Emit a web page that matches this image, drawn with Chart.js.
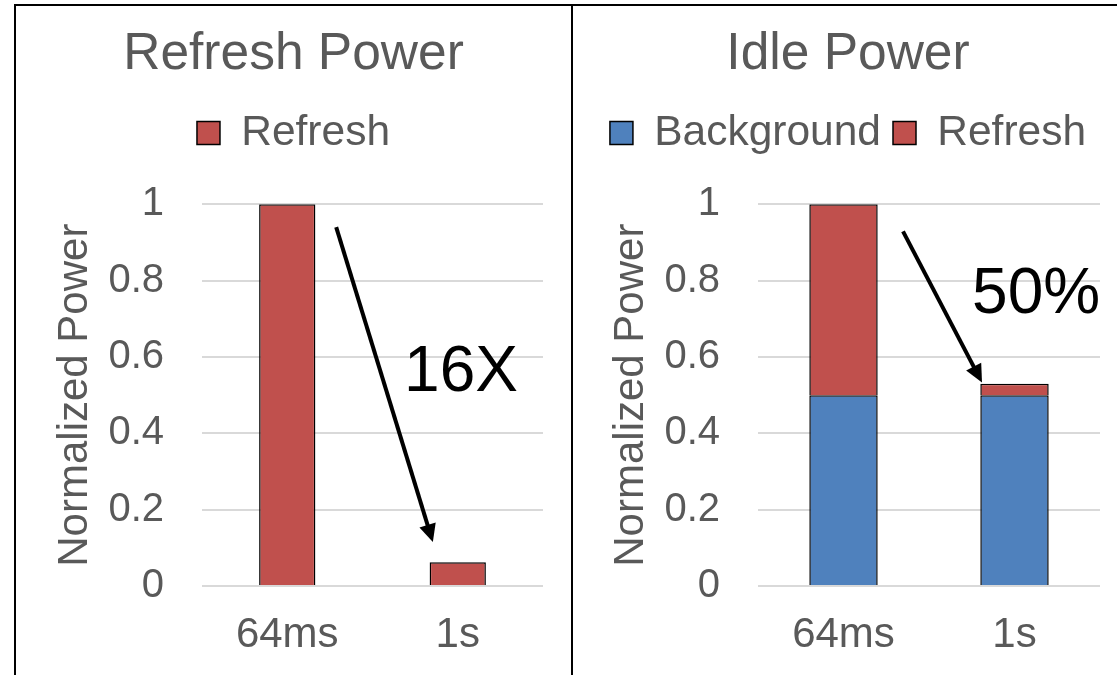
<!DOCTYPE html>
<html>
<head>
<meta charset="utf-8">
<script src="https://cdn.jsdelivr.net/npm/chart.js@4/dist/chart.umd.min.js"></script>
<style>
  html, body { margin: 0; padding: 0; background: #fff; }
  body { width: 1117px; height: 675px; position: relative; overflow: hidden; }
  .panel { position: absolute; top: 0; height: 675px; }
  #p1 { left: 17px; width: 554px; }
  #p2 { left: 574px; width: 543px; }
  .rule { position: absolute; background: #000; }
</style>
</head>
<body>
<div class="rule" style="left:14px;top:4px;width:1103px;height:2px"></div>
<div class="rule" style="left:14px;top:4px;width:2px;height:671px"></div>
<div class="rule" style="left:571px;top:4px;width:2px;height:671px"></div>
<div class="panel" id="p1"><canvas id="c1"></canvas></div>
<div class="panel" id="p2"><canvas id="c2"></canvas></div>
<script>
// Refresh interval settings
const categories = ['64ms', '1s'];
// Left panel: refresh power only
const refreshPower = [1, 0.0625];
// Right panel: idle power split into background and refresh
const idleBackground = [0.5, 0.5];
const idleRefresh = [0.5, 0.03];
// Value axis ticks
const yTicks = [0, 0.2, 0.4, 0.6, 0.8, 1];

const RED = '#C0504D';
const BLUE = '#4F81BD';
const GREY = '#595959';
const FONT = '"Liberation Sans", Arial, sans-serif';

Chart.defaults.font.family = FONT;
Chart.defaults.color = GREY;

// Arrow + callout text, positioned in (category index, value) units
const callouts = {
  c1: { from: [0.287, 0.94], to: [0.854, 0.115], text: '16X', at: [0.685, 0.51] },
  c2: { from: [0.348, 0.929], to: [0.81, 0.533], text: '50%', at: [0.752, 0.715] }
};

const calloutPlugin = {
  id: 'callout',
  afterDatasetsDraw(chart) {
    const c = callouts[chart.canvas.id];
    if (!c) return;
    const { ctx, scales: { x, y } } = chart;
    const x1 = x.getPixelForValue(c.from[0]), y1 = y.getPixelForValue(c.from[1]);
    const x2 = x.getPixelForValue(c.to[0]), y2 = y.getPixelForValue(c.to[1]);
    const ang = Math.atan2(y2 - y1, x2 - x1);
    const headLen = 18, headHalf = 8.5;
    const bx = x2 - headLen * Math.cos(ang), by = y2 - headLen * Math.sin(ang);
    ctx.save();
    ctx.strokeStyle = '#000';
    ctx.fillStyle = '#000';
    ctx.lineWidth = 4;
    ctx.beginPath();
    ctx.moveTo(x1, y1);
    ctx.lineTo(bx + 2 * Math.cos(ang), by + 2 * Math.sin(ang));
    ctx.stroke();
    ctx.beginPath();
    ctx.moveTo(x2, y2);
    ctx.lineTo(bx + headHalf * Math.sin(ang), by - headHalf * Math.cos(ang));
    ctx.lineTo(bx - headHalf * Math.sin(ang), by + headHalf * Math.cos(ang));
    ctx.closePath();
    ctx.fill();
    ctx.font = '64px ' + FONT;
    ctx.textAlign = 'left';
    ctx.textBaseline = 'alphabetic';
    ctx.fillText(c.text, x.getPixelForValue(c.at[0]), y.getPixelForValue(c.at[1]));
    ctx.restore();
  }
};

function makeChart(id, titleText, datasets, cfg) {
  return new Chart(document.getElementById(id), {
    type: 'bar',
    data: { labels: categories, datasets },
    plugins: [calloutPlugin],
    options: {
      responsive: true,
      maintainAspectRatio: false,
      animation: false,
      layout: { padding: { left: cfg.padL, right: cfg.padR, top: 0, bottom: 0 } },
      plugins: {
        tooltip: { enabled: false },
        title: {
          display: true,
          text: titleText,
          color: GREY,
          font: { size: 51.5, weight: 'normal' },
          padding: { top: 24, bottom: 14 }
        },
        legend: {
          display: true,
          position: 'top',
          weight: 1800,
          labels: {
            boxWidth: 23,
            boxHeight: 23,
            padding: 12,
            color: GREY,
            font: { size: 42.5 }
          }
        },
        // empty spacer between the legend and the plot area
        subtitle: {
          display: true,
          text: '',
          font: { size: 10, lineHeight: 1 },
          padding: { top: 30, bottom: 0 }
        }
      },
      scales: {
        x: {
          stacked: true,
          grid: { display: false, drawTicks: false },
          border: { display: false },
          ticks: { color: GREY, font: { size: 42 }, padding: 24 },
          afterFit(s) { s.height = 89; }
        },
        y: {
          stacked: true,
          min: 0,
          max: 1,
          grid: { color: '#D9D9D9', lineWidth: 2, drawTicks: false },
          border: { display: false },
          afterBuildTicks(s) { s.ticks = yTicks.map(v => ({ value: v })); },
          ticks: {
            color: GREY,
            font: { size: 40 },
            padding: 38,
            callback: v => String(v)
          },
          title: {
            display: true,
            text: 'Normalized Power',
            color: GREY,
            font: { size: 42 },
            padding: { top: cfg.titlePad, bottom: 0 }
          },
          afterFit(s) { s.width = cfg.yWidth; }
        }
      }
    }
  });
}

makeChart('c1', 'Refresh Power', [
  {
    label: 'Refresh',
    data: refreshPower,
    backgroundColor: RED,
    borderColor: '#000',
    borderWidth: 1.5,
    categoryPercentage: 1,
    barPercentage: 0.33
  }
], { padL: 27, padR: 28, yWidth: 158, titlePad: 6 });

makeChart('c2', 'Idle Power', [
  {
    label: 'Background',
    data: idleBackground,
    backgroundColor: BLUE,
    borderColor: '#000',
    borderWidth: 1.5,
    categoryPercentage: 1,
    barPercentage: 0.40
  },
  {
    label: 'Refresh',
    data: idleRefresh,
    backgroundColor: RED,
    borderColor: '#000',
    borderWidth: 1.5,
    categoryPercentage: 1,
    barPercentage: 0.40
  }
], { padL: 22, padR: 17, yWidth: 162, titlePad: 10 });
</script>
</body>
</html>
